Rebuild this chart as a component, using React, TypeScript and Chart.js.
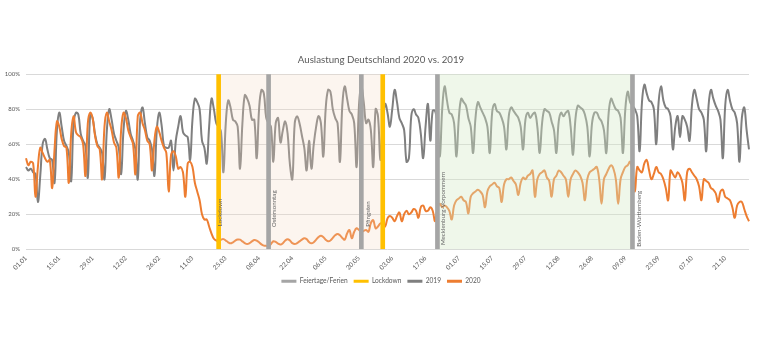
import { useEffect, useRef } from "react";
import { Chart, registerables } from "chart.js";

Chart.register(...registerables);

// ---------- categories: every day from 01.01 to 31.10 (2020 calendar) ----------
const monthLengths = [31, 29, 31, 30, 31, 30, 31, 31, 30, 31];
const days: string[] = [];
monthLengths.forEach((n, m) => {
  for (let d = 1; d <= n; d++) {
    days.push(`${String(d).padStart(2, "0")}.${String(m + 1).padStart(2, "0")}`);
  }
});

// ---------- axis tick labels ----------
const tickLabels = [
  "01.01", "15.01", "29.01", "12.02", "26.02", "11.03", "25.03", "08.04", "22.04", "06.05", "20.05",
  "03.06", "17.06", "01.07", "15.07", "29.07", "12.08", "26.08", "09.09", "23.09", "07.10", "21.10",
];
const yTicks = [0, 20, 40, 60, 80, 100];

// ---------- series (Auslastung in %) ----------
const values2019 = [
  47, 45, 46, 44, 43, 27, 42, 60, 63, 57,
  52, 51, 38, 68, 78, 70, 62, 59, 55, 39,
  72, 78, 77, 66, 62, 59, 41, 77, 75, 66,
  60, 58, 55, 40, 68, 80, 74, 66, 62, 58,
  43, 68, 79, 74, 66, 62, 57, 40, 74, 81,
  72, 64, 62, 57, 42, 68, 78, 71, 59, 58,
  58, 62, 45, 62, 70, 76, 67, 65, 64, 51,
  74, 86, 84, 80, 62, 58, 49, 70, 86, 80,
  72, 70, 67, 44, 72, 85, 81, 74, 73, 70,
  46, 72, 88, 86, 82, 74, 74, 52, 80, 91,
  89, 75, 72, 70, 50, 72, 75, 61, 68, 73,
  66, 48, 40, 72, 76, 72, 65, 58, 45, 62,
  46, 60, 70, 76, 72, 53, 80, 91, 90, 80,
  75, 72, 50, 82, 93, 86, 79, 77, 72, 47,
  82, 93, 84, 72, 74, 68, 47, 80, 76, 51,
  72, 83, 78, 70, 80, 91, 84, 75, 72, 68,
  50, 52, 76, 80, 77, 75, 66, 52, 70, 83,
  62, 79, 79, 72, 53, 80, 93, 85, 78, 77,
  72, 53, 75, 86, 84, 82, 75, 70, 55, 75,
  84, 81, 78, 75, 70, 55, 78, 83, 79, 78,
  75, 70, 57, 76, 81, 79, 77, 75, 70, 57,
  74, 78, 75, 77, 78, 70, 55, 72, 80, 79,
  78, 73, 68, 55, 73, 78, 76, 78, 79, 70,
  54, 74, 82, 81, 80, 77, 70, 53, 72, 78,
  78, 75, 73, 68, 55, 78, 86, 83, 80, 79,
  75, 55, 80, 90, 84, 82, 80, 76, 56, 84,
  94, 89, 85, 84, 80, 60, 84, 93, 85, 81,
  80, 76, 57, 70, 76, 64, 76, 74, 70, 62,
  82, 91, 86, 80, 78, 74, 56, 82, 91, 86,
  82, 79, 74, 52, 82, 91, 85, 80, 78, 72,
  50, 75, 81, 68, 57,
];

const values2020 = [
  52, 48, 50, 49, 30, 47, 58, 55, 52, 50,
  51, 35, 57, 73, 70, 63, 59, 58, 38, 66,
  76, 67, 65, 64, 60, 42, 72, 78, 75, 65,
  59, 57, 40, 70, 78, 73, 68, 61, 58, 41,
  68, 78, 75, 68, 64, 60, 43, 76, 78, 72,
  68, 62, 60, 45, 62, 70, 67, 62, 58, 55,
  33, 54, 56, 53, 46, 47, 44, 30, 49, 50,
  47, 38, 33, 28, 20, 17, 17, 13, 9, 6,
  5, 5, 5.5, 5.8, 5, 4, 3.4, 4, 5, 5.6,
  5.5, 4.5, 3.5, 3, 3.5, 4.5, 5.3, 5, 4, 2.8,
  2.1, 2, 1.7, 3, 4.6, 4.2, 3.2, 2.7, 3.5, 5,
  5.7, 5, 3.5, 3, 3.5, 4.5, 5.5, 6.3, 5.8, 4.2,
  3.4, 4, 5.5, 7, 7.8, 7, 5.5, 4.6, 5, 6.5,
  8, 8.7, 8, 6.5, 5.5, 9, 11, 6.3, 10, 12,
  11, 10, 10.5, 11, 10, 15, 16.6, 12, 13, 14.8,
  14, 13, 17.7, 19, 18, 16, 19, 21, 16, 20,
  22, 20, 21, 23, 22, 18, 24, 25, 22, 22,
  24, 22, 16, 23, 26, 24, 25, 24, 22, 17,
  25, 28, 29, 30, 28, 27, 20.5, 30, 32, 33,
  34, 33, 31, 24, 33, 36, 37, 38, 36, 35,
  27, 37, 40, 40, 41, 39, 37, 31, 38, 41,
  40, 42, 43, 45, 30, 40, 43, 44, 45, 41,
  39, 30, 40, 42, 45, 44, 42, 40, 30, 40,
  43, 45, 44, 42, 38, 28, 40, 44, 45, 46,
  47, 40, 26, 40, 43, 46, 48, 46, 40, 26,
  40, 44, 47, 48, 50, 45, 33, 47, 45, 44,
  49, 51, 45, 40, 43, 47, 44, 43, 40, 35,
  28, 45, 43, 41, 44, 42, 38, 28, 44, 46,
  44, 42, 40, 36, 28, 40, 39, 38, 35, 34,
  32, 27, 33, 34, 30, 29, 28, 24, 18, 25,
  27, 27, 23, 19, 16,
];

// ---------- event markers ----------
const holidayDates = ["12.04", "21.05", "22.06", "12.09"];
const holidayLabels = ["Ostersonntag", "Pfingsten", "Mecklenburg-Vorpommern", "Baden-Württemberg"];
const lockdownDates = ["22.03", "30.05"];
const lockdownLabels = ["Lockdown", ""];
const markerValue = 100;

// shaded periods
const lockdownPeriod = ["22.03", "30.05"];
const summerHolidayPeriod = ["22.06", "12.09"];

// ---------- styles ----------
const FONT = "Lato";
const TEXT = "#595959";
const labelStyle: Record<string, { dx: number; bottom: number }> = {
  Lockdown: { dx: 1.5, bottom: 13.2 },
  Ostersonntag: { dx: 5.5, bottom: 12.6 },
  Pfingsten: { dx: 7, bottom: 12.9 },
  "Mecklenburg-Vorpommern": { dx: 6, bottom: 2.4 },
  "Baden-Württemberg": { dx: 6.3, bottom: 1.5 },
};

const overlayPlugin = {
  id: "overlays",
  afterDatasetDraw(chart: any, args: any) {
    if (args.index !== 3) return;
    const { ctx, chartArea } = chart;
    const x = chart.scales.x;
    const regions = [
      { range: lockdownPeriod, color: "rgba(242,218,194,0.26)" },
      { range: summerHolidayPeriod, color: "rgba(214,234,200,0.38)" },
    ];
    ctx.save();
    regions.forEach((r) => {
      const x0 = x.getPixelForValue(days.indexOf(r.range[0]));
      const x1 = x.getPixelForValue(days.indexOf(r.range[1]));
      ctx.fillStyle = r.color;
      ctx.fillRect(x0, chartArea.top, x1 - x0, chartArea.bottom - chartArea.top);
    });
    ctx.restore();
  },
  afterDatasetsDraw(chart: any) {
    const { ctx } = chart;
    const x = chart.scales.x;
    const y = chart.scales.y;
    const items = [
      ...lockdownDates.map((d, i) => ({ d, t: lockdownLabels[i] })),
      ...holidayDates.map((d, i) => ({ d, t: holidayLabels[i] })),
    ];
    ctx.save();
    ctx.font = `6.2px ${FONT}`;
    ctx.fillStyle = "#666666";
    ctx.textAlign = "left";
    ctx.textBaseline = "middle";
    items.forEach(({ d, t }) => {
      if (!t) return;
      const st = labelStyle[t];
      const px = x.getPixelForValue(days.indexOf(d)) + st.dx;
      const py = y.getPixelForValue(st.bottom);
      ctx.save();
      ctx.translate(px, py);
      ctx.rotate(-Math.PI / 2);
      ctx.fillText(t, 0, 0);
      ctx.restore();
    });
    ctx.restore();
  },
};

export default function App() {
  const ref = useRef<HTMLCanvasElement>(null);

  useEffect(() => {
    if (!ref.current) return;
    const chart = new Chart(ref.current, {
      type: "line",
      data: {
        labels: days,
        datasets: [
          {
            type: "bar",
            label: "Feiertage/Ferien",
            data: holidayDates.map((d) => ({ x: d, y: markerValue })),
            backgroundColor: "#a5a5a5",
            borderWidth: 0,
            barThickness: 4,
            grouped: false,
            order: 0,
          } as any,
          {
            type: "bar",
            label: "Lockdown",
            data: lockdownDates.map((d) => ({ x: d, y: markerValue })),
            backgroundColor: "#ffc000",
            borderWidth: 0,
            barThickness: 4,
            grouped: false,
            order: 0,
          } as any,
          {
            type: "line",
            label: "2019",
            data: values2019,
            borderColor: "#7f7f7f",
            backgroundColor: "#7f7f7f",
            borderWidth: 2,
            pointRadius: 0,
            tension: 0.4,
            order: 2,
          },
          {
            type: "line",
            label: "2020",
            data: values2020,
            borderColor: "#ed7d31",
            backgroundColor: "#ed7d31",
            borderWidth: 2,
            pointRadius: 0,
            tension: 0.4,
            order: 1,
          },
        ],
      },
      options: {
        responsive: true,
        maintainAspectRatio: false,
        animation: false,
        layout: { padding: { left: 0, right: 0, top: 0, bottom: 45.4 } },
        scales: {
          x: {
            type: "category",
            offset: false,
            grid: { display: false, drawTicks: false },
            border: { display: false },
            ticks: {
              autoSkip: false,
              maxRotation: 45,
              minRotation: 45,
              padding: 5,
              color: TEXT,
              font: { family: FONT, size: 6.5 },
              callback: (_v: any, i: number) => (tickLabels.includes(days[i]) ? days[i] : null),
            },
            afterFit: (s: any) => {
              s.height = 22.7;
            },
          },
          y: {
            min: 0,
            max: 100,
            afterBuildTicks: (s: any) => {
              s.ticks = yTicks.map((v) => ({ value: v }));
            },
            grid: { color: "#d9d9d9", lineWidth: 1, drawTicks: false },
            border: { display: false },
            ticks: {
              padding: 6,
              color: TEXT,
              font: { family: FONT, size: 6 },
              callback: (v: any) => `${v}%`,
            },
            afterFit: (s: any) => {
              s.width = 26;
            },
          },
          yRightSpace: {
            position: "right",
            min: 0,
            max: 100,
            grid: { display: false, drawTicks: false },
            border: { display: false },
            ticks: { display: false },
            afterFit: (s: any) => {
              s.width = 13;
            },
          },
        },
        plugins: {
          title: {
            display: true,
            text: "Auslastung Deutschland 2020 vs. 2019",
            color: TEXT,
            font: { family: FONT, size: 9.7, weight: "normal" },
            padding: { top: 54, bottom: 8.5 },
          },
          legend: {
            position: "bottom",
            labels: {
              boxWidth: 15,
              boxHeight: 3,
              padding: 6,
              color: TEXT,
              font: { family: FONT, size: 6.6 },
              sort: (a: any, b: any) => a.datasetIndex - b.datasetIndex,
              generateLabels: (c: any) =>
                Chart.defaults.plugins.legend.labels
                  .generateLabels(c)
                  .map((l: any) => ({ ...l, lineWidth: 0 })),
            },
          },
          tooltip: { enabled: false },
        },
      },
      plugins: [overlayPlugin],
    });
    return () => chart.destroy();
  }, []);

  return (
    <div style={{ position: "fixed", left: 0, top: 0, width: 762, height: 340, background: "#fff" }}>
      <canvas ref={ref} />
    </div>
  );
}
